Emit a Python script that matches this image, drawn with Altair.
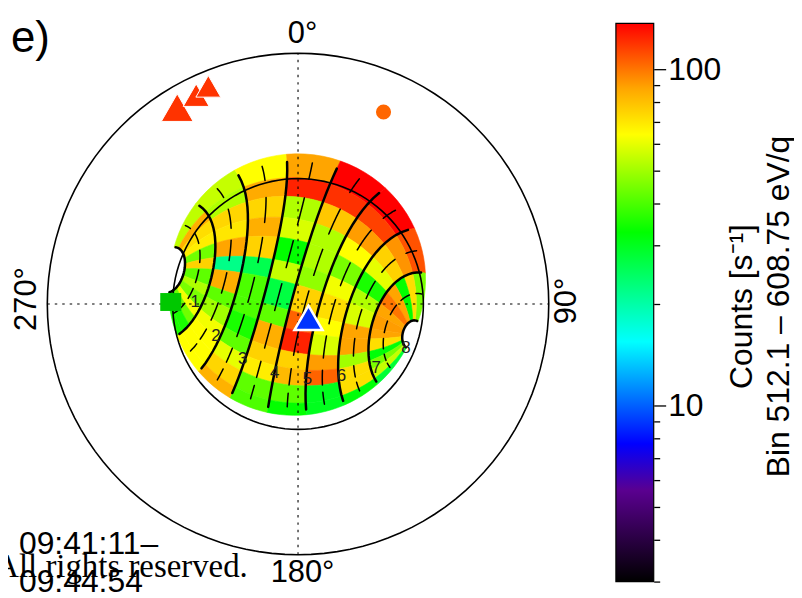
import altair as alt
import numpy as np
import pandas as pd

# sky map: polar angle from the centre, azimuth clockwise from the top
PX_PER_DEG = 1.4
CX, CY = 291.5, 296
W, H = 600, 582

# actuator axis and mid scan direction (azimuth, polar angle), deg
pole = (285, 95)
scan_mid = (355, 14)

anode_edges = [10, 30, 50, 70, 90, 110, 130, 150, 173]
anode_mids = [20, 40, 60, 80, 100, 120, 140, 160]
row_edges = [94, 76, 62, 46, 31, 14, 0, -19, -32, -48, -60, -72, -85, -94]

# counts [1/s], one list per anode, rows from the top of the disc down
anode_1 = [54, 85, 72, 68, 44, 75, 42, 52, 45, 62, 44, 35, 35]
anode_2 = [55, 52, 74, 70, 88, 22, 85, 42, 50, 62, 64, 64, 64]
anode_3 = [64, 86, 74, 85, 75, 26, 40, 40, 35, 42, 60, 74, 84]
anode_4 = [88, 125, 52, 58, 33, 55, 27, 42, 85, 75, 68, 42, 40]
anode_5 = [137, 120, 78, 52, 52, 48, 75, 105, 125, 75, 82, 42, 33]
anode_6 = [137, 115, 90, 64, 45, 62, 72, 64, 58, 90, 105, 30, 30]
anode_7 = [110, 92, 75, 60, 35, 52, 58, 88, 88, 50, 72, 72, 32]
anode_8 = [45, 72, 33, 88, 100, 88, 90, 88, 72, 32, 45, 55, 28]
counts = [anode_1, anode_2, anode_3, anode_4, anode_5, anode_6, anode_7, anode_8]

# where the black meridians are drawn, scan angle from/to
thick_spans = [(88, -90)]
thin_spans = [(88, 76), (62, 42), (30, 10), (-2, -22), (-32, -50), (-60, -72), (-78, -88)]

# spacecraft / target symbols (azimuth, polar angle)
tri_az = [328.4, 334, 337.6]
tri_colat = [165.5, 166.8, 169]
tri_size = [1024, 680, 625]
circle_az, circle_colat = [24.0], [150.9]
square_az, square_colat = [270.9], [91.4]
blue_az, blue_colat = [143], [12.5]

label_text = ["1", "2", "3", "4", "5", "6", "7", "8"]
label_az = [271, 248.8, 225.3, 198.8, 172.8, 149, 129.2, 112.1]
label_colat = [73.9, 63.2, 55.8, 52, 54, 60.7, 72.4, 83.6]

cbar_ticks = [3, 4, 5, 6, 7, 8, 9, 10, 20, 30, 40, 50, 60, 70, 80, 90, 100]
color_values = [3, 5.6, 7.7, 15.5, 32.8, 64, 88, 137]
color_list = ["#000000", "#5a0090", "#0000ff", "#00ffff", "#00ff00", "#ffff00", "#ffa500", "#ff0000"]


def unit(az, colat):
    az, colat = np.radians(az), np.radians(colat)
    return np.array([np.sin(colat) * np.sin(az), np.sin(colat) * np.cos(az), np.cos(colat)])


def plane_xy(v):
    colat = np.degrees(np.arccos(np.clip(v[2], -1, 1)))
    az = np.arctan2(v[0], v[1])
    return colat * np.sin(az), colat * np.cos(az)


def polar_xy(az, colat):
    az = np.radians(np.array(az, dtype=float))
    return np.array(colat) * np.sin(az), np.array(colat) * np.cos(az)


p = unit(*pole)
n = unit(*scan_mid)
n = n - p * n.dot(p)
n = n / np.linalg.norm(n)
t = np.cross(p, n)


def sky(c, psi):
    c, psi = np.radians(c), np.radians(psi)
    return plane_xy(np.cos(c) * p + np.sin(c) * (np.cos(psi) * n + np.sin(psi) * t))


def cell_ring(c0, c1, s0, s1):
    ring = []
    for c in np.linspace(c0, c1, 7):
        ring.append(sky(c, s0))
    for s in np.linspace(s0, s1, 7)[1:]:
        ring.append(sky(c1, s))
    for c in np.linspace(c1, c0, 7)[1:]:
        ring.append(sky(c, s1))
    for s in np.linspace(s1, s0, 7)[1:]:
        ring.append(sky(c0, s))
    return [[float(a), float(b)] for a, b in ring]


features = []
for i, col in enumerate(counts):
    for j, val in enumerate(col):
        features.append({
            "type": "Feature",
            "properties": {"count": val},
            "geometry": {"type": "Polygon", "coordinates": [cell_ring(anode_edges[i], anode_edges[i + 1], row_edges[j], row_edges[j + 1])]},
        })


def meridians(cones, spans):
    rows = []
    k = 0
    for c in cones:
        for s0, s1 in spans:
            for i, s in enumerate(np.linspace(s0, s1, 30)):
                x, y = sky(c, s)
                rows.append({"x": x, "y": y, "seg": k, "i": i})
            k += 1
    return pd.DataFrame(rows)


xdom = [-CX / PX_PER_DEG, (W - CX) / PX_PER_DEG]
ydom = [-(H - CY) / PX_PER_DEG, CY / PX_PER_DEG]
xs = alt.X("x:Q", scale=alt.Scale(domain=xdom, nice=False, zero=False), axis=None)
ys = alt.Y("y:Q", scale=alt.Scale(domain=ydom, nice=False, zero=False), axis=None)

color_scale = alt.Scale(type="log", domain=color_values, range=color_list, interpolate="rgb", clamp=True)

cells = alt.Chart(alt.Data(values=features)).mark_geoshape(strokeWidth=0.6).encode(
    color=alt.Color("properties.count:Q", scale=color_scale, legend=None),
    stroke=alt.Stroke("properties.count:Q", scale=color_scale, legend=None),
).project(type="identity", reflectY=True, scale=PX_PER_DEG, translate=[CX, CY])

thick = alt.Chart(meridians(anode_edges, thick_spans)).mark_line(color="black", strokeWidth=2.5, strokeCap="round").encode(
    xs, ys, detail="seg:N", order="i:Q")
thin = alt.Chart(meridians(anode_mids, thin_spans)).mark_line(color="black", strokeWidth=1.5, strokeCap="round").encode(
    xs, ys, detail="seg:N", order="i:Q")

# 90 and 180 degree rings
ring_rows = []
for r in [90, 180]:
    for i, az in enumerate(range(0, 361, 3)):
        x, y = polar_xy(az, r)
        ring_rows.append({"x": float(x), "y": float(y), "r": r, "i": i})
rings = alt.Chart(pd.DataFrame(ring_rows)).mark_line(color="black", strokeWidth=1.6).encode(
    xs, ys, detail="r:N", order="i:Q")

cross = pd.DataFrame({"x": [-180, 180, 0, 0], "y": [0, 0, -180, 180], "g": ["h", "h", "v", "v"], "i": [0, 1, 0, 1]})
dotted = alt.Chart(cross).mark_line(color="black", strokeWidth=1.1, strokeDash=[2.5, 5]).encode(
    xs, ys, detail="g:N", order="i:Q")


def symbols(az, colat, **kw):
    x, y = polar_xy(az, colat)
    return pd.DataFrame({"x": x, "y": y, **kw})


red_tri = alt.Chart(symbols(tri_az, tri_colat, s=tri_size)).mark_point(
    shape="triangle-up", filled=True, color="#ff3300", stroke="white", strokeWidth=1, opacity=1
).encode(xs, ys, size=alt.Size("s:Q", scale=None, legend=None))
orange_dot = alt.Chart(symbols(circle_az, circle_colat)).mark_point(
    shape="circle", filled=True, color="#ff6600", size=230, opacity=1).encode(xs, ys)
green_sq = alt.Chart(symbols(square_az, square_colat)).mark_point(
    shape="M-1.17,-1H1.17V1H-1.17Z", filled=True, color="#00c800", size=324, opacity=1).encode(xs, ys)
blue_tri = alt.Chart(symbols(blue_az, blue_colat)).mark_point(
    shape="triangle-up", filled=True, color="#0033ff", stroke="white", strokeWidth=2.5, size=800, opacity=1).encode(xs, ys)

lx, ly = polar_xy(label_az, label_colat)
numbers = alt.Chart(pd.DataFrame({"x": lx, "y": ly, "t": label_text})).mark_text(
    font="Liberation Sans", fontSize=17, color="#222222").encode(xs, ys, text="t:N")

SANS = "Liberation Sans"


def label(text, px, py, size=31, angle=0, align="center", font=SANS, color="black", clip=False):
    # px, py are page pixels of the text anchor
    return alt.Chart(pd.DataFrame({"x": [(px - 8 - CX) / PX_PER_DEG], "y": [-(py - 8 - CY) / PX_PER_DEG], "t": [text]})).mark_text(
        font=font, fontSize=size, angle=angle, align=align, baseline="middle", color=color, clip=clip
    ).encode(xs, ys, text="t:N")


texts = [
    label("e)", 11, 38, size=44, align="left"),
    label("0°", 304, 33),
    label("180°", 304, 574),
    label("270°", 27, 299, angle=270),
    label("90°", 570, 301, angle=270),
    label("09:41:11–", 19, 545, size=32, align="left"),
    label("09:44:54", 19, 583, size=32, align="left"),
    label("All rights reserved.", 249, 568, size=33, align="right", font="Liberation Serif", clip=True),
]

sky_map = alt.layer(cells, thick, thin, rings, dotted, red_tri, orange_dot, green_sq, blue_tri, numbers, *texts).properties(
    width=W, height=H)

# colour bar
logmin, logmax = np.log10(color_values[0]), np.log10(color_values[-1])
stops = [alt.GradientStop(color=c, offset=float((np.log10(v) - logmin) / (logmax - logmin))) for v, c in zip(color_values, color_list)]
bar = alt.Chart(pd.DataFrame({"lo": [color_values[0]], "hi": [color_values[-1]]})).mark_rect(
    color=alt.Gradient(gradient="linear", stops=stops, x1=0, x2=0, y1=1, y2=0),
    stroke="black", strokeWidth=1.2,
).encode(
    x=alt.value(0), x2=alt.value(38),
    y=alt.Y("lo:Q", scale=alt.Scale(type="log", domain=[color_values[0], color_values[-1]], nice=False, range=[575, 14]), axis=alt.Axis(
        orient="right", values=cbar_ticks, grid=False, domain=False,
        tickColor="black", tickWidth=1.3,
        tickSize={"condition": {"test": "datum.value == 10 || datum.value == 100", "value": 12}, "value": 6},
        labelExpr="datum.value == 10 || datum.value == 100 ? datum.value : ''",
        labelFont=SANS, labelFontSize=32, labelColor="black", labelPadding=2, labelOverlap=False,
        title=["Counts [s⁻¹]", "Bin 512.1 – 608.75 eV/q"], titleFont=SANS, titleFontSize=32, titleFontWeight="normal",
        titleColor="black", titleAngle=270, titleX=105, titleY=298, titleAlign="center", titleLineHeight=37,
    )),
    y2="hi:Q",
).properties(width=38, height=575)

chart = alt.hconcat(sky_map, bar, spacing=10).properties(padding=0).configure_view(stroke=None)

chart.save("out.html", embed_options={"renderer": "svg", "actions": False})
